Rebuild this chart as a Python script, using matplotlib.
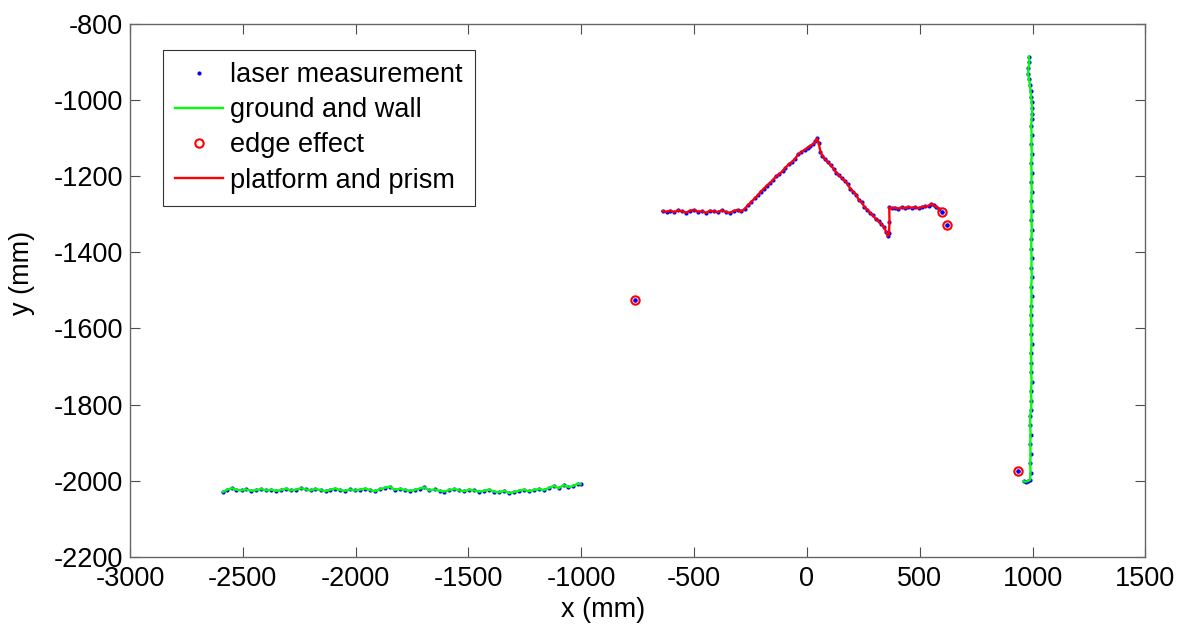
import numpy as np
import matplotlib.pyplot as plt

plt.rcParams['font.family'] = ['Liberation Sans', 'DejaVu Sans']
plt.rcParams['axes.unicode_minus'] = False

# ground scan (mm)
ground_x = [-2588, -2570, -2548, -2530, -2505, -2487, -2462, -2440, -2418, -2397,
            -2375, -2352, -2330, -2310, -2288, -2265, -2243, -2222, -2200, -2178,
            -2155, -2133, -2112, -2090, -2068, -2046, -2025, -2003, -1980, -1958,
            -1937, -1915, -1893, -1870, -1848, -1827, -1805, -1783, -1760, -1738,
            -1717, -1695, -1673, -1650, -1628, -1607, -1585, -1562, -1540, -1518,
            -1497, -1475, -1452, -1430, -1408, -1387, -1365, -1342, -1320, -1298,
            -1277, -1255, -1232, -1210, -1188, -1167, -1145, -1122, -1100, -1078,
            -1057, -1035, -1015, -1003]
ground_y = [-2030, -2024, -2020, -2024, -2026, -2023, -2027, -2025, -2022, -2026,
            -2024, -2027, -2025, -2021, -2026, -2024, -2020, -2023, -2026, -2022,
            -2025, -2028, -2024, -2021, -2025, -2027, -2023, -2026, -2024, -2021,
            -2025, -2028, -2023, -2019, -2016, -2024, -2022, -2024, -2027, -2025,
            -2021, -2018, -2026, -2023, -2027, -2029, -2025, -2022, -2026, -2028,
            -2024, -2026, -2029, -2027, -2024, -2029, -2031, -2027, -2033, -2030,
            -2027, -2024, -2028, -2025, -2022, -2025, -2020, -2014, -2020, -2012,
            -2017, -2014, -2008, -2010]

# platform and prism scan (mm)
platform_x = [-640, -622, -605, -588, -570, -553, -535, -518, -500, -482,
              -465, -447, -430, -412, -395, -377, -360, -342, -325, -307,
              -290, -275, -262, -248, -232, -218, -205, -190, -178, -165,
              -150, -137, -122, -108, -95, -80, -66, -52, -38, -25,
              -10, 3, 15, 28, 38, 45, 52, 60, 68, 80,
              92, 105, 118, 130, 142, 155, 168, 180, 192, 205,
              218, 230, 243, 255, 268, 280, 292, 305, 318, 330,
              342, 350, 358, 364, 366, 365, 375, 390, 405, 420,
              435, 450, 465, 480, 495, 510, 525, 540, 552, 563,
              574, 586]
platform_y = [-1291, -1293, -1290, -1294, -1289, -1292, -1295, -1290, -1288, -1293,
              -1291, -1296, -1290, -1292, -1294, -1289, -1293, -1296, -1291, -1288,
              -1292, -1285, -1276, -1268, -1258, -1250, -1240, -1232, -1224, -1218,
              -1209, -1200, -1194, -1186, -1177, -1168, -1162, -1153, -1142, -1136,
              -1130, -1124, -1120, -1115, -1108, -1100, -1112, -1135, -1145, -1155,
              -1162, -1170, -1180, -1190, -1197, -1205, -1212, -1220, -1232, -1240,
              -1248, -1262, -1268, -1280, -1288, -1296, -1302, -1312, -1318, -1326,
              -1333, -1345, -1357, -1350, -1320, -1281, -1284, -1282, -1285, -1281,
              -1284, -1280, -1283, -1281, -1284, -1280, -1279, -1277, -1272, -1276,
              -1280, -1285]

# wall scan (mm)
wall_x = [984, 986, 982, 980, 985, 988, 991, 994, 996, 998,
          999, 996, 994, 996, 995, 997, 994, 996, 995, 997,
          994, 996, 995, 997, 995, 994, 996, 995, 997, 994,
          996, 995, 993, 995, 994, 996, 993, 995, 994, 996,
          993, 995, 994, 989, 990, 991, 990, 991, 990, 991,
          989, 980, 970, 960]
wall_y = [-885, -900, -915, -930, -945, -960, -975, -990, -1005, -1020,
          -1035, -1050, -1068, -1090, -1115, -1140, -1165, -1190, -1215, -1240,
          -1265, -1290, -1315, -1340, -1365, -1390, -1415, -1440, -1465, -1490,
          -1515, -1540, -1565, -1590, -1615, -1640, -1665, -1690, -1715, -1740,
          -1765, -1790, -1815, -1830, -1855, -1880, -1905, -1930, -1955, -1980,
          -1998, -2001, -2003, -2002]

# edge effect points (mm)
edge_x = [-760, 598, 622, 937]
edge_y = [-1526, -1294, -1328, -1975]

laser_x = ground_x + platform_x + wall_x + edge_x
laser_y = ground_y + platform_y + wall_y + edge_y
gw_x = ground_x + [np.nan] + wall_x
gw_y = ground_y + [np.nan] + wall_y

fs = 19.5

fig = plt.figure(figsize=(11.82, 6.24), dpi=100)
ax = fig.add_axes([0.110, 0.108, 0.859, 0.853])

ax.plot(laser_x, laser_y, '.', color='blue', markersize=4, label='laser measurement')
ax.plot(gw_x, gw_y, '-', color=(0, 1, 0), linewidth=1.7, label='ground and wall')
ax.plot(edge_x, edge_y, 'o', color='red', markerfacecolor='none', markersize=6,
        markeredgewidth=1.5, label='edge effect')
ax.plot(platform_x, platform_y, '-', color='red', linewidth=1.7, label='platform and prism')
ax.plot(edge_x, edge_y, '.', color='blue', markersize=4)

ax.set_xlim(-3000, 1500)
ax.set_ylim(-2200, -800)
ax.set_xticks(np.arange(-3000, 1501, 500))
ax.set_yticks(np.arange(-2200, -799, 200))
ax.tick_params(direction='in', length=7.5, width=0.8, top=True, right=True,
               labelsize=fs, color='0.3')
ax.tick_params(axis='x', pad=7)
ax.tick_params(axis='y', pad=5)
for s in ax.spines.values():
    s.set_color('0.4')
    s.set_linewidth(1)
ax.set_xlabel('x (mm)', fontsize=fs)
ax.set_ylabel('y (mm)', fontsize=fs)
ax.xaxis.set_label_coords(0.4657, -0.076)
ax.yaxis.set_label_coords(-0.094, 0.533)

leg = ax.legend(loc='upper left', bbox_to_anchor=(0.0325, 0.952), fontsize=fs,
                fancybox=False, framealpha=1, edgecolor='0.2', handlelength=1.75,
                handletextpad=0.27, labelspacing=0.34, borderpad=0.45,
                borderaxespad=0, markerscale=1)
leg.get_frame().set_linewidth(0.8)

fig.savefig('out.png', dpi=100)
